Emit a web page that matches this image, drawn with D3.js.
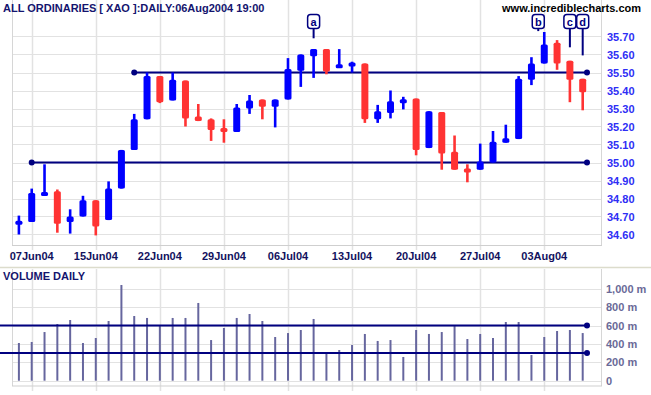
<!DOCTYPE html>
<html>
<head>
<meta charset="utf-8">
<script src="https://cdn.jsdelivr.net/npm/d3@7"></script>
<style>
  body { margin: 0; background: #fff; }
  text { font-family: Arial, "Liberation Sans", sans-serif; font-weight: bold; }
</style>
</head>
<body>
<div id="plot"></div>
<script>
//Trading days;
const dates = ["04Jun04","07Jun04","08Jun04","09Jun04","10Jun04","11Jun04","15Jun04","16Jun04","17Jun04","18Jun04",
  "21Jun04","22Jun04","23Jun04","24Jun04","25Jun04","28Jun04","29Jun04","30Jun04","01Jul04","02Jul04",
  "05Jul04","06Jul04","07Jul04","08Jul04","09Jul04","12Jul04","13Jul04","14Jul04","15Jul04","16Jul04",
  "19Jul04","20Jul04","21Jul04","22Jul04","23Jul04","26Jul04","27Jul04","28Jul04","29Jul04","30Jul04",
  "02Aug04","03Aug04","04Aug04","05Aug04","06Aug04"];

//Prices;
const open  = [34.66,34.67,34.82,34.84,34.67,34.70,34.79,34.68,34.855,35.07,
  35.24,35.48,35.345,35.455,35.255,35.24,35.185,35.17,35.30,35.35,
  35.31,35.35,35.51,35.59,35.63,35.525,35.54,35.55,35.24,35.275,
  35.33,35.355,35.08,35.28,35.06,34.96,34.96,35.00,35.11,35.13,
  35.46,35.55,35.665,35.565,35.465];
const high  = [34.705,34.855,34.99,34.85,34.74,34.815,34.79,34.895,35.07,35.27,
  35.50,35.48,35.50,35.455,35.325,35.245,35.24,35.325,35.375,35.35,
  35.35,35.58,35.60,35.63,35.63,35.63,35.56,35.55,35.32,35.40,
  35.365,35.355,35.285,35.28,35.15,34.99,35.105,35.175,35.21,35.48,
  35.585,35.725,35.68,35.565,35.465];
const low   = [34.60,34.67,34.815,34.61,34.605,34.70,34.595,34.68,34.855,35.07,
  35.24,35.33,35.345,35.20,35.23,35.12,35.11,35.17,35.27,35.24,
  35.195,35.35,35.42,35.47,35.49,35.525,35.50,35.22,35.22,35.245,
  35.295,35.04,35.08,34.96,34.96,34.89,34.96,35.00,35.11,35.13,
  35.43,35.55,35.515,35.335,35.29];
const close = [34.67,34.83,34.83,34.66,34.70,34.79,34.645,34.855,35.07,35.24,
  35.48,35.335,35.46,35.245,35.23,35.18,35.175,35.305,35.345,35.31,
  35.35,35.52,35.60,35.63,35.505,35.545,35.55,35.24,35.285,35.34,
  35.35,35.07,35.285,35.05,34.96,34.95,35.005,35.115,35.135,35.465,
  35.55,35.655,35.55,35.46,35.39];

//Volume (millions);
const volume = [410,421,529,616,660,410,464,649,1040,703,
  682,605,682,682,845,442,573,682,725,649,
  475,518,551,671,301,334,388,508,432,442,
  258,551,508,529,595,453,508,464,638,638,
  279,475,540,551,518];

//Axis ticks;
const dateTicks = ["07Jun04","15Jun04","22Jun04","29Jun04","06Jul04","13Jul04","20Jul04","27Jul04","03Aug04"];
const priceTicks = [34.60,34.70,34.80,34.90,35.00,35.10,35.20,35.30,35.40,35.50,35.60,35.70];
const volTicks = [0,200,400,600,800,1000];

//Trend lines: level and starting day;
const priceLines = [{level:35.50, from:"18Jun04"},{level:35.00, from:"07Jun04"}];
const volLines = [600,300];

//Annotations: letter, day, tip price, shift;
const notes = [
  {t:"a", d:"08Jul04", tip:35.69, dx:0},
  {t:"b", d:"03Aug04", tip:35.73, dx:-6},
  {t:"c", d:"05Aug04", tip:35.64, dx:0},
  {t:"d", d:"06Aug04", tip:35.595, dx:0}
];

const w=651;
const h=395;
const navy="#000080";
const grid="#e2e2e2";
const lineEnd=587;

const svg = d3.select("#plot")
  .append("svg")
    .attr("width", w)
    .attr("height", h);

//Scales;
const xScale = d3.scalePoint().domain(dates).range([18.9, 582.7]);
const yScale = d3.scaleLinear().domain([35.00, 35.50]).range([162.5, 72.5]);
const vScale = d3.scaleLinear().domain([0, 1000]).range([380.7, 288.7]);

//Price grid;
svg.append("g").selectAll("line")
  .data(priceTicks).enter().append("line")
    .attr("x1", 12.5).attr("x2", 601.5)
    .attr("y1", d => Math.round(yScale(d)) + 0.5)
    .attr("y2", d => Math.round(yScale(d)) + 0.5)
    .attr("stroke", grid);

svg.append("g").selectAll("line")
  .data(dateTicks).enter().append("line")
    .attr("x1", d => Math.round(xScale(d)) + 0.5)
    .attr("x2", d => Math.round(xScale(d)) + 0.5)
    .attr("y1", 0).attr("y2", 250)
    .attr("stroke", grid)
    .attr("stroke-width", 1.5);

//Plot borders;
svg.append("line").attr("x1",12.5).attr("x2",12.5).attr("y1",0).attr("y2",246).attr("stroke","#d6d6d6");
svg.append("line").attr("x1",601.5).attr("x2",601.5).attr("y1",0).attr("y2",246).attr("stroke","#d6d6d6");
svg.append("line").attr("x1",12).attr("x2",602).attr("y1",245.5).attr("y2",245.5).attr("stroke","#cfcfcf");

//Price axis;
svg.append("g").selectAll("text")
  .data(priceTicks).enter().append("text")
    .attr("x", 607)
    .attr("y", d => yScale(d) + 4)
    .attr("font-size", "11px")
    .attr("fill", "#2e2ef5")
    .text(d => d.toFixed(2));

//Date axis;
svg.append("g").selectAll("text")
  .data(dateTicks).enter().append("text")
    .attr("x", d => xScale(d))
    .attr("y", 260)
    .attr("text-anchor", "middle")
    .attr("font-size", "11px")
    .attr("fill", "#12125e")
    .text(d => d);

//Support / resistance lines;
priceLines.forEach(function(l){
  const y = yScale(l.level);
  svg.append("line")
    .attr("x1", xScale(l.from)).attr("x2", lineEnd)
    .attr("y1", y).attr("y2", y)
    .attr("stroke", navy).attr("stroke-width", 2);
  [xScale(l.from), lineEnd].forEach(function(x){
    svg.append("circle").attr("cx", x).attr("cy", y).attr("r", 3).attr("fill", navy);
  });
});

//Candles;
const candles = svg.append("g").selectAll("g")
  .data(dates).enter().append("g");

candles.append("line")
  .attr("x1", d => xScale(d)).attr("x2", d => xScale(d))
  .attr("y1", (d,i) => yScale(high[i]))
  .attr("y2", (d,i) => yScale(low[i]))
  .attr("stroke", (d,i) => close[i] >= open[i] ? "#0000ff" : "#ff3333")
  .attr("stroke-width", 2.6);

candles.append("rect")
  .attr("x", d => xScale(d) - 3.5)
  .attr("width", 7)
  .attr("y", function(d,i){
    const top = yScale(Math.max(open[i], close[i]));
    const bot = yScale(Math.min(open[i], close[i]));
    return bot - top < 4 ? (top + bot) / 2 - 2 : top;
  })
  .attr("height", function(d,i){
    const hh = yScale(Math.min(open[i], close[i])) - yScale(Math.max(open[i], close[i]));
    return Math.max(hh, 4);
  })
  .attr("rx", 1.5)
  .attr("fill", (d,i) => close[i] >= open[i] ? "#0000ff" : "#ff3333");

//Annotation labels;
const note = svg.append("g").selectAll("g")
  .data(notes).enter().append("g");

note.append("line")
  .attr("x1", d => xScale(d.d) + d.dx).attr("x2", d => xScale(d.d) + d.dx)
  .attr("y1", 28).attr("y2", d => yScale(d.tip))
  .attr("stroke", navy).attr("stroke-width", 2);

note.append("rect")
  .attr("x", d => xScale(d.d) + d.dx - 6)
  .attr("y", 14.5)
  .attr("width", 12).attr("height", 14)
  .attr("rx", 3)
  .attr("fill", "#fff")
  .attr("stroke", navy).attr("stroke-width", 1.5);

note.append("text")
  .attr("x", d => xScale(d.d) + d.dx)
  .attr("y", 25.5)
  .attr("text-anchor", "middle")
  .attr("font-size", "11px")
  .attr("fill", navy)
  .text(d => d.t);

//Titles;
svg.append("text")
  .attr("x", 3).attr("y", 12)
  .attr("font-size", "11px")
  .attr("fill", "#14146e")
  .text("ALL ORDINARIES [ XAO ]:DAILY:06Aug2004 19:00");

svg.append("text")
  .attr("x", 641).attr("y", 12)
  .attr("text-anchor", "end")
  .attr("font-size", "11px")
  .attr("fill", "#000")
  .text("www.incrediblecharts.com");

//Volume panel;
svg.append("line").attr("x1",0).attr("x2",w).attr("y1",267.5).attr("y2",267.5).attr("stroke","#dcdccc").attr("stroke-width",1.5);

svg.append("g").selectAll("line")
  .data(volTicks).enter().append("line")
    .attr("x1", 12.5).attr("x2", 601.5)
    .attr("y1", d => Math.round(vScale(d)) + 0.5)
    .attr("y2", d => Math.round(vScale(d)) + 0.5)
    .attr("stroke", grid);

svg.append("g").selectAll("line")
  .data(dateTicks).enter().append("line")
    .attr("x1", d => Math.round(xScale(d)) + 0.5)
    .attr("x2", d => Math.round(xScale(d)) + 0.5)
    .attr("y1", 269).attr("y2", 391)
    .attr("stroke", grid)
    .attr("stroke-width", 1.5);

svg.append("line").attr("x1",12.5).attr("x2",12.5).attr("y1",269).attr("y2",386).attr("stroke","#d6d6d6");
svg.append("line").attr("x1",601.5).attr("x2",601.5).attr("y1",269).attr("y2",386).attr("stroke","#d6d6d6");
svg.append("line").attr("x1",12).attr("x2",602).attr("y1",386).attr("y2",386).attr("stroke","#cfcfcf");

svg.append("text")
  .attr("x", 3).attr("y", 280)
  .attr("font-size", "11px")
  .attr("fill", "#14146e")
  .text("VOLUME DAILY");

svg.append("g").selectAll("text")
  .data(volTicks).enter().append("text")
    .attr("x", 606)
    .attr("y", d => vScale(d) + 4)
    .attr("font-size", "11px")
    .attr("fill", "#6a6a98")
    .text(d => d === 0 ? "0" : d3.format(",")(d) + " m");

//Volume bars;
svg.append("g").selectAll("line")
  .data(volume).enter().append("line")
    .attr("x1", (d,i) => xScale(dates[i])).attr("x2", (d,i) => xScale(dates[i]))
    .attr("y1", vScale(0)).attr("y2", d => vScale(d))
    .attr("stroke", "#66669e")
    .attr("stroke-width", 2);

//Volume levels;
volLines.forEach(function(v){
  svg.append("line")
    .attr("x1", 0).attr("x2", lineEnd)
    .attr("y1", vScale(v)).attr("y2", vScale(v))
    .attr("stroke", navy).attr("stroke-width", 2);
  svg.append("circle").attr("cx", lineEnd).attr("cy", vScale(v)).attr("r", 3).attr("fill", navy);
});
</script>
</body>
</html>
